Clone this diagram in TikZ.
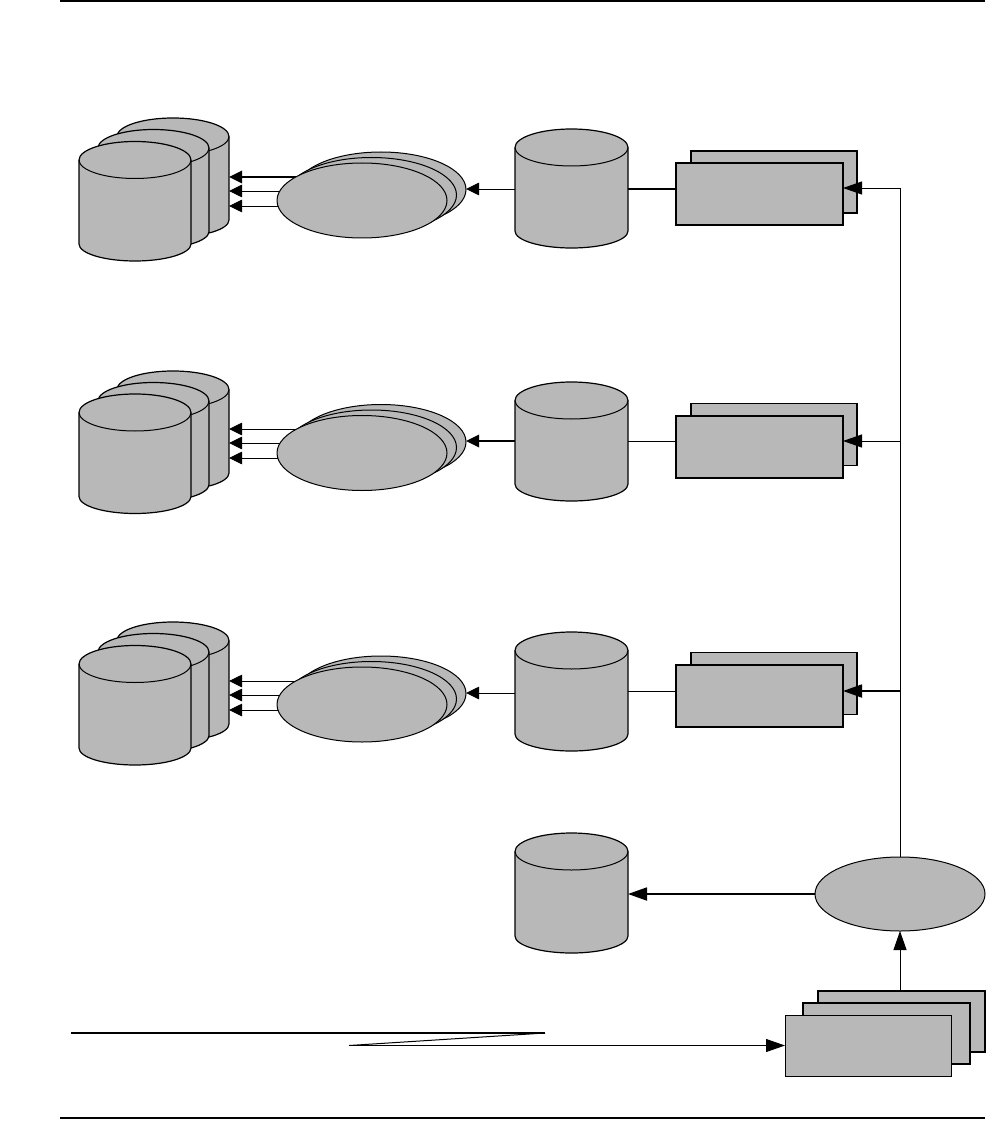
\documentclass[tikz,border=0pt]{standalone}
\usetikzlibrary{arrows.meta,backgrounds,shapes.geometric}
\definecolor{shade}{HTML}{B8B8B8}
\tikzset{
  x=1pt,y=-1pt,
  shapeline/.style={draw=black,line width=1.2pt,fill=shade},
  boxfill/.style={draw=black,line width=1.4pt,fill=shade,rectangle,anchor=north west,inner sep=0pt,outer sep=0pt},
  blob/.style={draw=black,line width=1pt,fill=shade,ellipse,inner sep=0pt,outer sep=0pt},
  thinline/.style={line width=0.9pt},
  thickline/.style={line width=1.8pt},
  arr/.style={-{Triangle[length=13pt,width=12.5pt]}},
  arrlong/.style={-{Triangle[length=19pt,width=13pt]}},
}
% \cyl{name}{left}{top}{width}{height}
\newcommand{\cyl}[5]{%
  \pgfmathsetmacro{\cl}{#2}\pgfmathsetmacro{\cr}{#2+#4}\pgfmathsetmacro{\cm}{#2+#4/2}%
  \pgfmathsetmacro{\ct}{#3}\pgfmathsetmacro{\cb}{#3+#5}%
  \pgfmathsetmacro{\cs}{#3+18.5}\pgfmathsetmacro{\ce}{#3+#5-17}%
  \pgfmathsetmacro{\ckx}{0.552*#4/2}\pgfmathsetmacro{\cky}{0.552*18.5}\pgfmathsetmacro{\ckz}{0.552*17}%
  \path[shapeline] (\cl,\cs) .. controls (\cl,\cs-\cky) and (\cm-\ckx,\ct) .. (\cm,\ct)
     .. controls (\cm+\ckx,\ct) and (\cr,\cs-\cky) .. (\cr,\cs) -- (\cr,\ce)
     .. controls (\cr,\ce+\ckz) and (\cm+\ckx,\cb) .. (\cm,\cb)
     .. controls (\cm-\ckx,\cb) and (\cl,\ce+\ckz) .. (\cl,\ce) -- cycle;
  \draw[line width=1pt] (\cl,\cs) .. controls (\cl,\cs+\cky) and (\cm-\ckx,\cs+18.5) .. (\cm,\cs+18.5)
     .. controls (\cm+\ckx,\cs+18.5) and (\cr,\cs+\cky) .. (\cr,\cs);
  \node[anchor=north west,inner sep=0pt,outer sep=0pt,minimum width=#4pt,minimum height=#5pt] (#1) at (\cl,\ct) {};%
}
\begin{document}
\begin{tikzpicture}
\useasboundingbox (0,0) rectangle (998,1147);

% page rules
\coordinate (rt0) at (60,1); \coordinate (rt1) at (985,1);
\coordinate (rb0) at (60,1118); \coordinate (rb1) at (985,1118);
\draw[thickline] (rt0) -- (rt1);
\draw[thickline] (rb0) -- (rb1);

% ---------- row 1
\cyl{ca1}{117}{118}{112}{119}
\cyl{cb1}{98}{129.5}{111}{119}
\cyl{cc1}{79}{141.5}{112}{119.5}
\node[blob,minimum width=170pt,minimum height=75pt] (ea1) at (381,189.5) {};
\node[blob,minimum width=170pt,minimum height=75pt] (eb1) at (371.5,195) {};
\node[blob,minimum width=170pt,minimum height=75pt] (ec1) at (362,200.5) {};
\cyl{m1}{515}{129}{113}{119}
\node[boxfill,minimum width=166pt,minimum height=62pt] (bb1) at (691,151) {};
\node[boxfill,minimum width=167pt,minimum height=62pt] (bf1) at (676,163) {};

% ---------- row 2
\cyl{ca2}{117}{371}{112}{119}
\cyl{cb2}{98}{382.5}{111}{119}
\cyl{cc2}{79}{394}{112}{119.5}
\node[blob,minimum width=170pt,minimum height=75pt] (ea2) at (381,442) {};
\node[blob,minimum width=170pt,minimum height=75pt] (eb2) at (371.5,447.5) {};
\node[blob,minimum width=170pt,minimum height=75pt] (ec2) at (362,453) {};
\cyl{m2}{515}{382}{113}{119}
\node[boxfill,minimum width=166pt,minimum height=62pt] (bb2) at (691,403.5) {};
\node[boxfill,minimum width=167pt,minimum height=62pt] (bf2) at (676,416) {};

% ---------- row 3
\cyl{ca3}{117}{622}{112}{119}
\cyl{cb3}{98}{633.5}{111}{119}
\cyl{cc3}{79}{645.5}{112}{119.5}
\node[blob,minimum width=170pt,minimum height=75pt] (ea3) at (381,693.5) {};
\node[blob,minimum width=170pt,minimum height=75pt] (eb3) at (371.5,699) {};
\node[blob,minimum width=170pt,minimum height=75pt] (ec3) at (362,704.5) {};
\cyl{m3}{515}{632}{113}{119}
\node[boxfill,minimum width=166pt,minimum height=62pt] (bb3) at (691,652.5) {};
\node[boxfill,minimum width=167pt,minimum height=62pt] (bf3) at (676,665) {};

% ---------- bottom
\cyl{m4}{515}{833}{113}{120}
\node[blob,minimum width=170pt,minimum height=74pt] (hub) at (900,894) {};
\node[boxfill,minimum width=167pt,minimum height=61pt] (s3) at (818,991) {};
\node[boxfill,minimum width=167pt,minimum height=61pt] (s2) at (803,1003) {};
\node[boxfill,line width=1pt,minimum width=166pt,minimum height=61pt] (s1) at (785,1015) {};

% ---------- junctions
\coordinate (j1) at (900,188);
\coordinate (j2) at (900,441);
\coordinate (j3) at (900,691);
\coordinate (lz0) at (71,1033);
\coordinate (lz1) at (545,1033);
\coordinate (lz2) at (349,1045.5);

% ellipse to cylinder stack: behind the ellipses
\begin{pgfonlayer}{background}
\draw[thickline,arr] (ec1.center |- 0,177) -- (ca1.east |- 0,177);
\draw[thinline,arr] (ec1.center |- 0,191) -- (ca1.east |- 0,191);
\draw[thinline,arr] (ec1.center |- 0,206) -- (ca1.east |- 0,206);
\draw[thinline,arr] (ec2.center |- 0,429) -- (ca2.east |- 0,429);
\draw[thinline,arr] (ec2.center |- 0,443) -- (ca2.east |- 0,443);
\draw[thinline,arr] (ec2.center |- 0,458) -- (ca2.east |- 0,458);
\draw[thinline,arr] (ec3.center |- 0,681) -- (ca3.east |- 0,681);
\draw[thinline,arr] (ec3.center |- 0,695) -- (ca3.east |- 0,695);
\draw[thinline,arr] (ec3.center |- 0,710) -- (ca3.east |- 0,710);
\end{pgfonlayer}

% cylinder to ellipse
\draw[thinline,arr] (m1.west |- 0,189) -- (ea1.east |- 0,189);
\draw[thickline,arr] (m2.west |- 0,441) -- (ea2.east |- 0,441);
\draw[thinline,arr] (m3.west |- 0,693) -- (ea3.east |- 0,693);

% cylinder to box
\draw[thickline] (m1.east |- 0,189) -- (bf1.west |- 0,189);
\draw[thinline] (m2.east |- 0,441) -- (bf2.west |- 0,441);
\draw[thinline] (m3.east |- 0,691) -- (bf3.west |- 0,691);

% distribution line
\draw[thinline] (hub.north) -- (j1);
\draw[thinline,arrlong] (j1) -- (bf1.east |- j1);
\draw[thinline,arrlong] (j2) -- (bf2.east |- j2);
\draw[thickline,arrlong] (j3) -- (bf3.east |- j3);

% bottom
\draw[thickline,arrlong] (hub.west) -- (m4.east |- hub.west);
\draw[thinline,arrlong] (s3.north -| hub.south) -- (hub.south);
\draw[thickline] (lz0) -- (lz1);
\draw[line width=1pt] (lz1) -- (lz2);
\draw[thinline,arrlong] (lz2) -- (s1.west |- lz2);
\end{tikzpicture}
\end{document}
